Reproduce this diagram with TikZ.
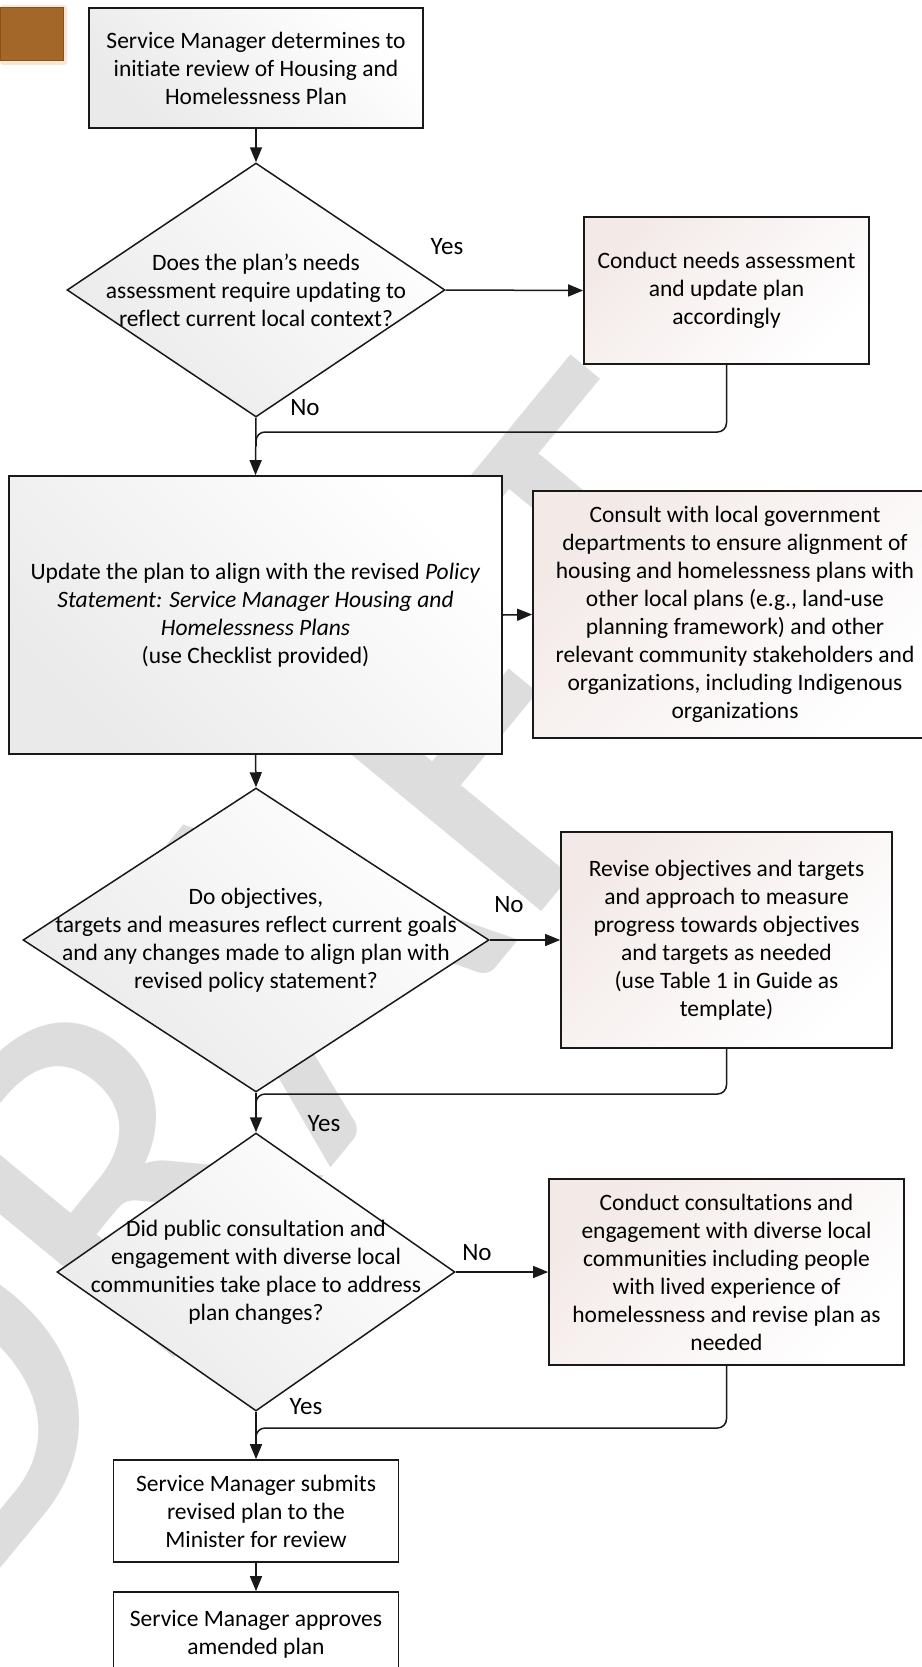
\documentclass[tikz,border=0pt]{standalone}
\usepackage{fontspec}
\setmainfont{Carlito}[Ligatures=NoCommon]
\usetikzlibrary{arrows.meta,shapes.geometric,calc}
\definecolor{wm}{RGB}{221,221,221}
\definecolor{brownbox}{RGB}{163,103,42}
\definecolor{browndark}{RGB}{135,82,28}
\definecolor{tabglow}{RGB}{246,230,214}
\definecolor{pinkish}{RGB}{243,234,232}
\definecolor{grayish}{RGB}{234,234,234}
\definecolor{edge}{RGB}{25,25,25}
\tikzset{
  txt/.style={font=\fontsize{23.5}{28}\selectfont, align=center, inner sep=0pt},
  lbl/.style={font=\fontsize{25}{28}\selectfont, inner sep=0pt},
  boxbase/.style={draw=edge, line width=1.7pt, rectangle, inner sep=0pt, txt},
  graybox/.style={boxbase, shading=axis, top color=white, bottom color=grayish, shading angle=-45},
  pinkbox/.style={boxbase, shading=axis, top color=pinkish, bottom color=white, shading angle=45},
  whitebox/.style={boxbase, fill=white},
  dia/.style={draw=edge, line width=1.5pt, shape=diamond, inner sep=0pt, shading=axis, top color=white, bottom color=grayish, shading angle=-45},
  arr/.style={draw=edge, line width=1.5pt, -{Triangle[length=15pt,width=12pt]}},
  ln/.style={draw=edge, line width=1.5pt, rounded corners=9pt},
}
\begin{document}
\begin{tikzpicture}[x=1pt,y=-1pt]
\useasboundingbox (0,0) rectangle (921,1667);
\fill[white] (0,0) rectangle (921,1667);
% watermark
\node[rotate=50.5, anchor=base east, text=wm, inner sep=0pt, font=\fontsize{517}{517}\selectfont] (wmk) at (831,561) {DRAFT};
% brown tab
\fill[tabglow, rounded corners=3pt] (0,5) rectangle (67,65);
\node[draw=browndark, fill=brownbox, line width=1pt, minimum width=63pt, minimum height=53pt, inner sep=0pt] (tab) at (31.5,34.5) {};
% boxes
\node[graybox, minimum width=334pt, minimum height=120pt] (top) at (256,68)
  {\fontsize{23.5}{26}\selectfont Service Manager determines to\\initiate review of Housing and\\Homelessness Plan};
\node[dia, minimum width=378pt, minimum height=254pt] (d1) at (256,290) {};
\node[txt] (d1t) at (d1.center) {Does the plan’s needs\\assessment require updating to\\reflect current local context?};
\node[pinkbox, minimum width=285pt, minimum height=147pt] (c1) at (726.5,290.5)
  {Conduct needs assessment\\and update plan\\accordingly};
\node[graybox, minimum width=493pt, minimum height=278pt] (upd) at (255.5,615)
  {Update the plan to align with the revised \textit{Policy}\\\textit{Statement: Service Manager Housing and}\\\textit{Homelessness Plans}\\(use Checklist provided)};
\node[pinkbox, minimum width=404pt, minimum height=247pt] (cons) at (735,614.5)
  {Consult with local government\\departments to ensure alignment of\\housing and homelessness plans with\\other local plans (e.g., land-use\\planning framework) and other\\relevant community stakeholders and\\organizations, including Indigenous\\organizations};
\node[dia, minimum width=466pt, minimum height=304pt] (d2) at (256,940) {};
\node[txt] (d2t) at (d2.center) {Do objectives,\\targets and measures reflect current goals\\and any changes made to align plan with\\revised policy statement?};
\node[pinkbox, minimum width=331pt, minimum height=216pt] (rev) at (726.5,940)
  {Revise objectives and targets\\and approach to measure\\progress towards objectives\\and targets as needed\\(use Table 1 in Guide as\\template)};
\node[dia, minimum width=398pt, minimum height=278pt] (d3) at (256,1272) {};
\node[txt] (d3t) at (d3.center) {Did public consultation and\\engagement with diverse local\\communities take place to address\\plan changes?};
\node[pinkbox, minimum width=355pt, minimum height=186pt] (c2) at (726.5,1272)
  {Conduct consultations and\\engagement with diverse local\\communities including people\\with lived experience of\\homelessness and revise plan as\\needed};
\node[whitebox, minimum width=285pt, minimum height=102pt] (sub) at (256,1511)
  {Service Manager submits\\revised plan to the\\Minister for review};
\node[whitebox, minimum width=285pt, minimum height=84pt] (app) at (256,1634)
  {Service Manager approves\\amended plan};
% junction points
\coordinate (j1) at (256,432);
\coordinate (j2) at (256,1094);
\coordinate (j3) at (256,1428);
% connectors
\draw[arr] (top.south) -- (d1.north);
\draw[arr] (d1.east) -- (c1.west);
\draw[arr] (d1.south) -- (upd.north);
\draw[ln] (c1.south) |- (j1) -- ($(j1)+(0,14)$);
\draw[arr] (upd.east) -- (cons.west);
\draw[arr] (upd.south) -- (d2.north);
\draw[arr] (d2.east) -- (rev.west);
\draw[arr] (d2.south) -- (d3.north);
\draw[ln] (rev.south) |- (j2) -- ($(j2)+(0,14)$);
\draw[arr] (d3.east) -- (c2.west);
\draw[arr] (d3.south) -- (sub.north);
\draw[ln] (c2.south) |- (j3) -- ($(j3)+(0,14)$);
\draw[arr] (sub.south) -- (app.north);
% labels
\node[lbl] (l1) at (447,247) {Yes};
\node[lbl] (l2) at (305,408) {No};
\node[lbl] (l3) at (509,905) {No};
\node[lbl] (l4) at (324,1124) {Yes};
\node[lbl] (l5) at (477,1253) {No};
\node[lbl] (l6) at (306,1407) {Yes};
\end{tikzpicture}
\end{document}
